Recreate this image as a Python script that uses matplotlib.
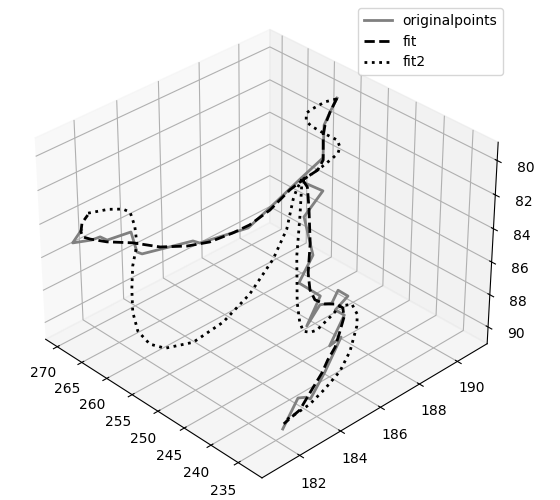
import matplotlib
matplotlib.use('Agg')
import matplotlib.pyplot as plt
from mpl_toolkits.mplot3d import Axes3D
import numpy as np

gap = [np.nan]

# The curves split at the junction, so each series has its branches apart.
original_upper_x = [255.2, 254.8, 254.5, 252.6, 253.0, 253.9, 254.4, 257.3, 258.0, 261.5, 262.0, 264.0, 265.3, 265.9, 266.4, 267.9, 267.9]
original_upper_y = [190.42, 189.96, 189.58, 189.02, 187.98, 186.70, 185.76, 184.14, 183.98, 182.40, 182.28, 182.50, 181.68, 181.50, 181.22, 180.68, 181.10]
original_upper_z = [79.7, 80.2, 80.7, 82.0, 82.7, 83.8, 84.5, 84.9, 84.8, 85.2, 85.1, 84.4, 84.6, 84.4, 84.5, 84.6, 84.1]
original_lower_x = [252.8, 250.3, 250.1, 246.7, 245.8, 242.8, 241.8, 242.2, 241.4, 241.6, 240.3, 240.5, 239.4, 238.4, 238.0, 236.8, 236.0, 235.9, 236.3, 236.9, 236.0]
original_lower_y = [188.06, 188.40, 187.40, 186.94, 186.00, 186.26, 185.32, 186.08, 186.46, 186.82, 186.96, 186.38, 186.54, 185.54, 186.00, 184.88, 184.16, 183.92, 183.82, 183.58, 182.60]
original_lower_z = [82.9, 83.2, 84.1, 85.5, 86.4, 86.8, 87.8, 87.1, 87.1, 86.6, 86.8, 87.3, 87.5, 88.5, 88.2, 89.3, 89.8, 90.1, 90.0, 90.0, 91.0]

fit_upper_x = [255.2, 254.8, 254.4, 254.0, 252.2, 252.1, 252.9, 253.2, 253.8, 254.5, 255.2, 256.6, 258.2, 260.5, 263.1, 265.0, 266.7, 267.4, 267.9, 268.5, 268.5]
fit_upper_y = [190.42, 189.96, 189.60, 189.40, 188.92, 188.62, 188.08, 187.52, 186.68, 185.86, 185.22, 184.44, 183.76, 183.02, 182.36, 181.60, 181.22, 181.06, 181.08, 181.28, 181.56]
fit_upper_z = [79.7, 80.2, 80.7, 81.1, 82.0, 82.4, 82.8, 83.1, 83.9, 84.4, 84.6, 84.9, 85.0, 85.0, 84.8, 84.6, 84.5, 84.4, 84.2, 83.9, 83.6]
fit_lower_x = [252.9, 251.8, 250.3, 247.6, 245.8, 244.2, 243.2, 241.9, 240.8, 239.9, 239.1, 238.4, 237.7, 237.4, 236.9, 236.4, 235.9, 236.1, 236.2]
fit_lower_y = [188.08, 188.02, 187.70, 187.04, 186.46, 186.12, 186.10, 186.24, 186.54, 186.60, 186.44, 186.04, 185.62, 185.18, 184.76, 184.18, 183.40, 182.84, 182.70]
fit_lower_z = [82.8, 83.0, 83.8, 85.0, 86.1, 86.6, 87.0, 87.1, 87.1, 87.2, 87.5, 88.0, 88.5, 88.9, 89.3, 89.7, 90.4, 90.7, 90.8]

fit2_top_x = [255.1, 255.9, 256.7, 257.1, 256.6, 255.8, 254.1, 252.4, 251.8, 251.5, 251.7, 252.0, 252.5, 253.0]
fit2_top_y = [190.34, 190.00, 189.56, 189.38, 189.24, 189.28, 189.42, 189.68, 189.66, 189.48, 189.28, 188.80, 188.34, 188.06]
fit2_top_z = [79.7, 79.8, 80.1, 80.3, 80.6, 80.8, 81.0, 81.3, 81.6, 81.8, 82.0, 82.3, 82.6, 82.8]
fit2_left_x = [268.5, 267.4, 266.1, 265.2, 264.1, 262.5, 261.1, 259.5, 257.8, 255.8, 253.7, 252.2, 250.4, 249.4, 249.2, 249.9, 250.7, 252.4, 252.7, 252.8]
fit2_left_y = [181.58, 182.26, 182.65, 182.77, 182.71, 182.41, 181.85, 181.40, 181.01, 180.75, 180.79, 181.14, 182.03, 183.22, 184.47, 185.81, 186.70, 187.47, 187.73, 188.02]
fit2_left_z = [83.5, 83.5, 83.5, 83.6, 84.2, 84.8, 85.5, 86.3, 87.1, 87.7, 88.1, 88.3, 88.2, 87.6, 86.7, 85.6, 84.5, 83.5, 83.1, 82.7]
fit2_lower_x = [252.8, 250.6, 248.0, 244.4, 242.8, 241.8, 241.0, 240.5, 240.3, 240.2, 239.4, 238.1, 237.3, 236.0, 235.3, 235.4, 235.4, 235.7, 236.1]
fit2_lower_y = [188.02, 187.33, 186.48, 185.54, 185.24, 185.15, 185.28, 185.47, 186.22, 186.53, 186.92, 186.83, 186.59, 185.90, 185.21, 184.49, 183.76, 183.27, 182.84]
fit2_lower_z = [82.7, 84.1, 85.5, 87.0, 87.7, 88.0, 88.0, 87.9, 87.4, 87.1, 87.1, 87.4, 87.8, 88.6, 89.2, 89.8, 90.2, 90.4, 90.6]

x_limits = [230.7, 272.4]
y_limits = [180.2, 191.6]
z_limits = [78.95, 91.05]

fig = plt.figure(figsize=(5.6, 5.0), dpi=100)
ax = fig.add_axes([0.0195, 0.003, 0.8875, 0.994], projection='3d')
ax.view_init(elev=33, azim=136)

ax.plot(original_upper_x + gap + original_lower_x,
        original_upper_y + gap + original_lower_y,
        original_upper_z + gap + original_lower_z,
        color='gray', lw=2, label='originalpoints')
ax.plot(fit_upper_x + gap + fit_lower_x,
        fit_upper_y + gap + fit_lower_y,
        fit_upper_z + gap + fit_lower_z,
        'k--', lw=2, label='fit')
ax.plot(fit2_top_x + gap + fit2_left_x + gap + fit2_lower_x,
        fit2_top_y + gap + fit2_left_y + gap + fit2_lower_y,
        fit2_top_z + gap + fit2_left_z + gap + fit2_lower_z,
        'k:', lw=2, label='fit2')

ax.set_xlim(x_limits)
ax.set_ylim(y_limits[1], y_limits[0])
ax.set_zlim(z_limits[1], z_limits[0])
ax.legend(loc='upper right', bbox_to_anchor=(503 / 560, 492 / 500),
          bbox_transform=fig.transFigure, borderaxespad=0)
fig.savefig('out.png')
